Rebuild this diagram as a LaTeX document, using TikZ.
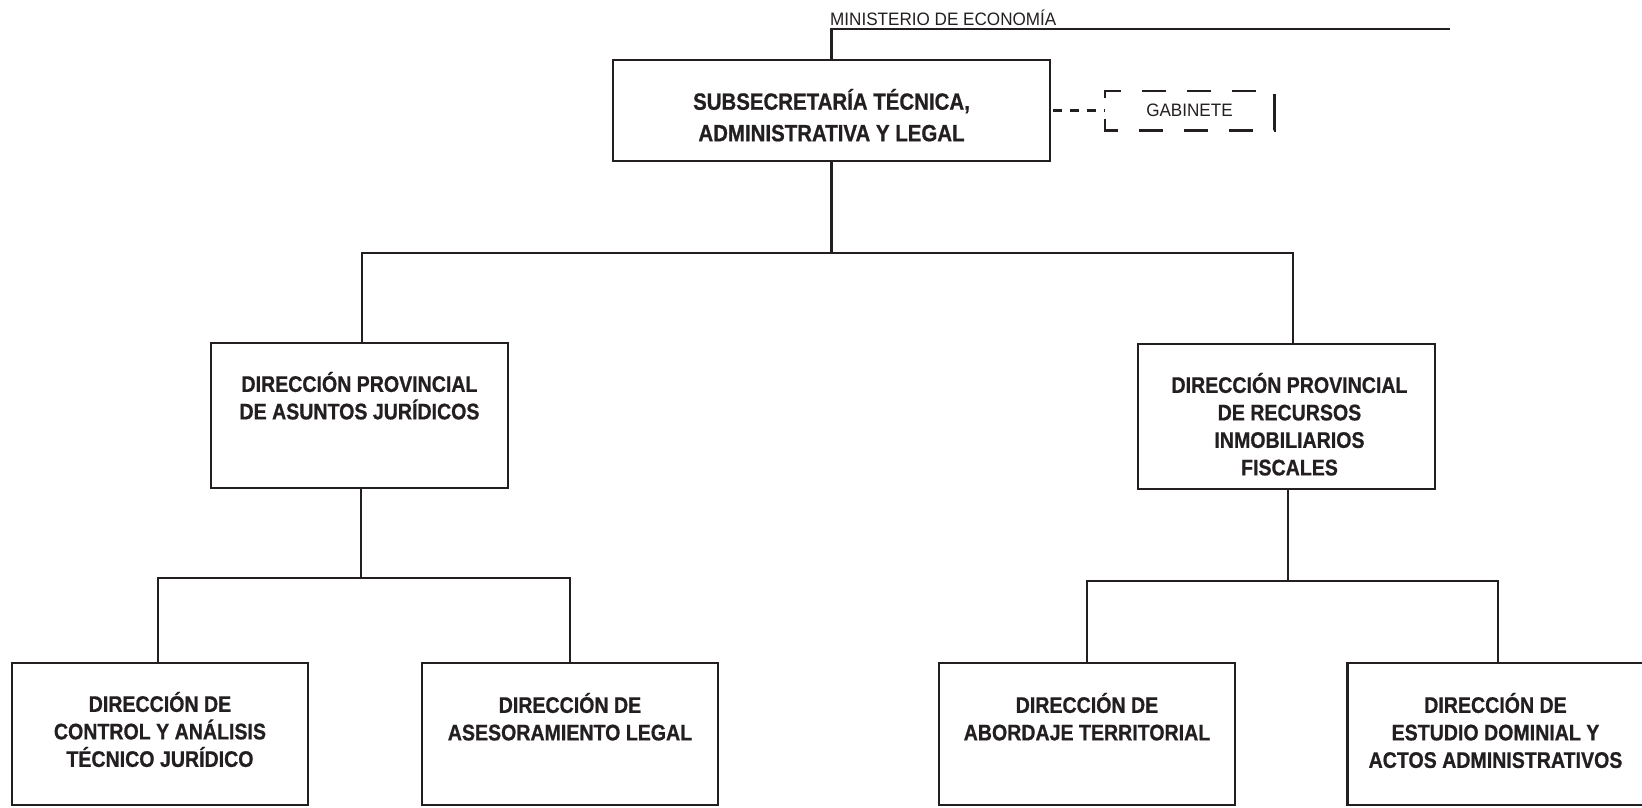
\documentclass[tikz,border=0pt]{standalone}
\usepackage{fontspec}
\setmainfont{Liberation Sans}[FakeStretch=0.87, BoldFeatures={FakeBold=0.8}]
\newfontfamily\regfont{Liberation Sans}[FakeStretch=0.95]
\usetikzlibrary{positioning}
\definecolor{ink}{RGB}{35,31,32}

\begin{document}
\begin{tikzpicture}[x=1pt, y=-1pt]
  \tikzset{
    unit/.style={draw=ink, line width=2.6pt, inner sep=0pt, minimum width=297pt, minimum height=145pt},
    leaf/.style={unit, minimum width=296pt, minimum height=142pt},
    lbl/.style={anchor=north, align=center, inner sep=0pt, text=ink, font=\bfseries\fontsize{22.5}{27.5}\selectfont, execute at begin node={\rule{0pt}{1em}}},
    link/.style={draw=ink, line width=2.6pt},
    gab/.style={inner sep=0pt, minimum width=169pt, minimum height=39pt, text=ink, font=\regfont\fontsize{18}{22}\selectfont},
    gabline/.style={link, dash pattern=on 24pt off 21pt, dash phase=7.5pt}
  }
  \useasboundingbox (0,0) rectangle (1642,807);

  %--- boxes ---
  \node[unit, minimum width=437pt, minimum height=101pt] (sub) at (831.5,110.5) {};
  \node[gab] (gab) at (1189.5,110.5) {GABINETE};
  \draw[gabline] (gab.east) |- (gab.north west) |- (gab.south east) -- (gab.east);
  \node[unit] (dpaj)  at (359.5,415.5) {};
  \node[unit] (dprif) at (1286.5,416.5) {};
  \node[leaf] (dcat) at (160,734)    {};
  \node[leaf] (dal)  at (570,734)    {};
  \node[leaf] (dat)  at (1087,734)   {};
  \node[leaf] (ded)  at (1495.5,734) {};

  %--- texts ---
  \node[lbl, font=\bfseries\fontsize{23.5}{31.5}\selectfont] (sub-t) at ([yshift=-30pt]sub.north) {SUBSECRETARÍA TÉCNICA,\\ADMINISTRATIVA Y LEGAL};
  \node[lbl] (dpaj-t)  at ([yshift=-30pt]dpaj.north)  {DIRECCIÓN PROVINCIAL\\DE ASUNTOS JURÍDICOS};
  \node[lbl] (dprif-t) at ([xshift=3pt,yshift=-30pt]dprif.north) {DIRECCIÓN PROVINCIAL\\DE RECURSOS\\INMOBILIARIOS\\FISCALES};
  \node[lbl] (dcat-t)  at ([yshift=-30pt]dcat.north)  {DIRECCIÓN DE\\CONTROL Y ANÁLISIS\\TÉCNICO JURÍDICO};
  \node[lbl] (dal-t)   at ([yshift=-31pt]dal.north)   {DIRECCIÓN DE\\ASESORAMIENTO LEGAL};
  \node[lbl] (dat-t)   at ([yshift=-31pt]dat.north)   {DIRECCIÓN DE\\ABORDAJE TERRITORIAL};
  \node[lbl] (ded-t)   at ([yshift=-31pt]ded.north)   {DIRECCIÓN DE\\ESTUDIO DOMINIAL Y\\ACTOS ADMINISTRATIVOS};

  %--- links ---
  % ministerio -> sub
  \node[anchor=base west, inner sep=0pt, text=ink, font=\regfont\fontsize{18}{22}\selectfont] (min-t) at (830,25) {MINISTERIO DE ECONOMÍA};
  \coordinate (min) at (1450,29);
  \draw[link] (sub.north) |- (min);

  % sub -> gabinete
  \draw[link, dash pattern=on 9pt off 8pt, dash phase=-2pt] (sub.east) -- (gab.west);

  % sub -> dpaj, dprif
  \coordinate (bus1) at (sub.south |- 0,253);
  \draw[link] (sub.south) -- (bus1);
  \draw[link] ([xshift=2.5pt]dpaj.north) |- (bus1) -| ([xshift=6.5pt]dprif.north);

  % dpaj -> dcat, dal
  \coordinate (bus2) at ([xshift=1.5pt]dpaj.south |- 0,578);
  \draw[link] ([xshift=1.5pt]dpaj.south) -- (bus2);
  \draw[link] ([xshift=-2pt]dcat.north) |- (bus2) -| (dal.north);

  % dprif -> dat, ded
  \coordinate (bus3) at ([xshift=1.5pt]dprif.south |- 0,581);
  \draw[link] ([xshift=1.5pt]dprif.south) -- (bus3);
  \draw[link] (dat.north) |- (bus3) -| ([xshift=2.5pt]ded.north);
\end{tikzpicture}
\end{document}
